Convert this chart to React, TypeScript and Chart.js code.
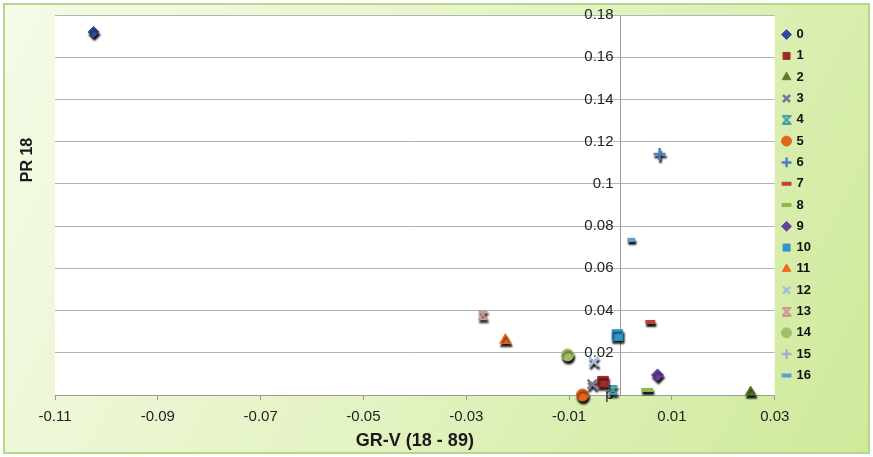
import { useEffect, useRef } from 'react';
import { Chart, registerables } from 'chart.js';
Chart.register(...registerables);

const seriesNames = ['0', '1', '2', '3', '4', '5', '6', '7', '8', '9', '10', '11', '12', '13', '14', '15', '16'];
const seriesX: (number | null)[] = [-0.1025, -0.0034, 0.0253, -0.0055, -0.0015, -0.0074, 0.0076, 0.0058, 0.0052, 0.0072, -0.0006, -0.0224, -0.0052, -0.0268, -0.0103, null, 0.0021];
const seriesY: (number | null)[] = [0.172, 0.0063, 0.0014, 0.0051, 0.0024, 0.0, 0.1142, 0.0346, 0.0024, 0.0095, 0.0284, 0.026, 0.0158, 0.038, 0.019, null, 0.0735];
const seriesColors = ['#2b4e9b', '#9e2a2a', '#5b7d2b', '#7a7596', '#3aa0a8', '#e0661c', '#4a7fc6', '#c43c3c', '#8cb84c', '#6a3d9e', '#2f96c8', '#f06a1e', '#a4bde3', '#c89494', '#a0bf68', '#b3aacb', '#5c9fd8'];
const seriesMarkers = ['rectRot', 'rect', 'triangle', 'crossRot', 'xbar', 'circle', 'cross', 'line', 'line', 'rectRot', 'rect', 'triangle', 'crossRot', 'xbar', 'circle', 'cross', 'line'];
const seriesRadius = [5.5, 7.5, 6, 6.5, 5, 6, 6, 5, 6, 6, 7.5, 6.5, 6.5, 5, 6, 6, 4];

const xTicks = [-0.11, -0.09, -0.07, -0.05, -0.03, -0.01, 0, 0.01, 0.03];
const xTickLabels = ['-0.11', '-0.09', '-0.07', '-0.05', '-0.03', '-0.01', '', '0.01', '0.03'];
const yTicks = [0, 0.02, 0.04, 0.06, 0.08, 0.1, 0.12, 0.14, 0.16, 0.18];
const yTickLabels = ['p', '0.02', '0.04', '0.06', '0.08', '0.1', '0.12', '0.14', '0.16', '0.18'];
const yLabelAnchorX = -0.00136;

const xTitle = 'GR-V (18 - 89)';
const yTitle = 'PR 18';

function makeXBar(color: string, size: number, lw: number) {
  const c = document.createElement('canvas');
  c.width = size;
  c.height = size;
  const g = c.getContext('2d')!;
  g.strokeStyle = color;
  g.lineWidth = lw;
  g.lineCap = 'butt';
  const p = lw / 2;
  g.beginPath();
  g.moveTo(p, p);
  g.lineTo(size - p, size - p);
  g.moveTo(size - p, p);
  g.lineTo(p, size - p);
  g.moveTo(0.5, p);
  g.lineTo(size - 0.5, p);
  g.moveTo(0.5, size - p);
  g.lineTo(size - 0.5, size - p);
  g.stroke();
  return c;
}

export default function App() {
  const ref = useRef<HTMLCanvasElement>(null);
  useEffect(() => {
    document.body.style.margin = '0';
    const canvas = ref.current!;
    const datasets = seriesNames.map((name, i) => {
      const marker = seriesMarkers[i];
      const color = seriesColors[i];
      const pointStyle: any = marker === 'xbar' ? makeXBar(color, 10, 2) : marker;
      const stroked = marker === 'crossRot' || marker === 'cross' || marker === 'line';
      const data = seriesX[i] === null ? [] : [{ x: seriesX[i] as number, y: seriesY[i] as number }];
      return {
        label: name,
        data,
        pointStyle,
        pointRadius: seriesRadius[i],
        pointHoverRadius: seriesRadius[i],
        pointBackgroundColor: color,
        pointBorderColor: color,
        backgroundColor: color,
        borderColor: color,
        pointBorderWidth: marker === 'line' ? 4 : stroked ? 2.5 : 1,
        borderWidth: marker === 'line' ? 3 : stroked ? 1.5 : 1,
        showLine: false,
        clip: false as any,
      };
    });

    const bgPlugin = {
      id: 'bg',
      beforeDraw(chart: any) {
        const { ctx, chartArea, width, height } = chart;
        ctx.save();
        ctx.fillStyle = '#ffffff';
        ctx.fillRect(0, 0, width, height);
        const grad = ctx.createLinearGradient(0, 0, width, height);
        grad.addColorStop(0, '#f5fbe8');
        grad.addColorStop(0.5, '#e4f3c4');
        grad.addColorStop(1, '#cfe99a');
        ctx.fillStyle = grad;
        ctx.fillRect(4, 4, width - 8, height - 8);
        ctx.strokeStyle = '#b2d88a';
        ctx.lineWidth = 2;
        ctx.strokeRect(4, 4, width - 8, height - 8);
        ctx.fillStyle = '#ffffff';
        ctx.fillRect(chartArea.left, chartArea.top, chartArea.right - chartArea.left, chartArea.bottom - chartArea.top);
        ctx.restore();
      },
      beforeDatasetsDraw(chart: any) {
        const ctx = chart.ctx;
        ctx.save();
        ctx.shadowColor = 'rgba(0,0,0,0.95)';
        ctx.shadowOffsetX = 1;
        ctx.shadowOffsetY = 3;
        ctx.shadowBlur = 2;
      },
      afterDatasetsDraw(chart: any) {
        chart.ctx.restore();
      },
      afterDraw(chart: any) {
        const { ctx, chartArea } = chart;
        ctx.save();
        ctx.fillStyle = '#1a1a1a';
        ctx.font = 'bold 18px "Liberation Sans", Arial, sans-serif';
        ctx.textAlign = 'center';
        ctx.textBaseline = 'middle';
        ctx.fillText(xTitle, (chartArea.left + chartArea.right) / 2, 441);
        ctx.translate(28, 160);
        ctx.rotate(-Math.PI / 2);
        ctx.font = 'bold 16px "Liberation Sans", Arial, sans-serif';
        ctx.fillText(yTitle, 0, 0);
        ctx.restore();
      },
    };

    const chart = new Chart(canvas, {
      type: 'scatter',
      data: { datasets: datasets as any },
      options: {
        animation: false,
        responsive: false,
        events: [],
        layout: { padding: { left: 55, top: 15, right: 52, bottom: 0 } },
        scales: {
          x: {
            type: 'linear',
            position: 'bottom',
            min: -0.11,
            max: 0.03,
            afterBuildTicks: (s: any) => {
              s.ticks = xTicks.map((v) => ({ value: v }));
            },
            afterFit: (s: any) => {
              s.height = 62;
            },
            grid: {
              drawOnChartArea: true,
              drawTicks: true,
              tickLength: 5,
              color: (c: any) => (c.tick && c.tick.value === 0 ? '#9a9a9a' : 'rgba(0,0,0,0)'),
              tickColor: (c: any) => (c.tick && c.tick.value === 0 ? 'rgba(0,0,0,0)' : '#9a9a9a'),
            },
            border: { display: true, color: '#9a9a9a', width: 1 },
            ticks: {
              padding: 8,
              color: '#222',
              font: { family: '"Liberation Sans", Arial, sans-serif', size: 15 },
              maxRotation: 0,
              autoSkip: false,
              callback: (_v: any, i: number) => xTickLabels[i],
            },
          },
          y: {
            type: 'linear',
            position: { x: yLabelAnchorX } as any,
            min: 0,
            max: 0.18,
            afterBuildTicks: (s: any) => {
              s.ticks = yTicks.map((v) => ({ value: v }));
            },
            grid: { drawTicks: false, color: '#b4b4b4' },
            border: { display: false },
            ticks: {
              padding: 0,
              color: '#222',
              font: { family: '"Liberation Sans", Arial, sans-serif', size: 15 },
              autoSkip: false,
              callback: (_v: any, i: number) => yTickLabels[i],
            },
          },
        },
        plugins: {
          tooltip: { enabled: false },
          legend: {
            display: true,
            position: 'right',
            fullSize: false,
            align: 'center',
            labels: {
              usePointStyle: true,
              boxWidth: 7,
              boxHeight: 7,
              padding: 8.3,
              color: '#111',
              font: { family: '"Liberation Sans", Arial, sans-serif', size: 13, weight: 'bold' },
            },
          },
        },
      },
      plugins: [bgPlugin],
    });
    return () => chart.destroy();
  }, []);
  return (
    <div style={{ position: 'fixed', left: 0, top: 0, width: 873, height: 457 }}>
      <canvas ref={ref} width={873} height={457} />
    </div>
  );
}
